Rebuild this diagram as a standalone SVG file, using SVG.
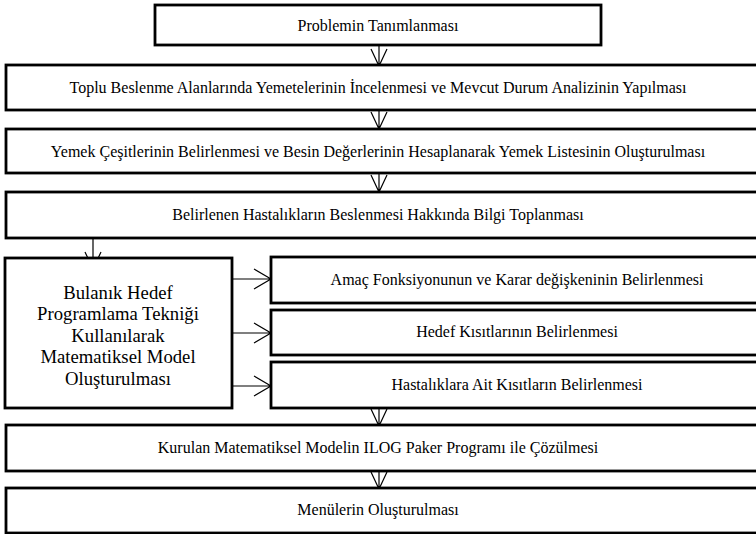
<svg xmlns="http://www.w3.org/2000/svg" width="756" height="534" viewBox="0 0 756 534">
<style>
.box{fill:#fff;stroke:#000;stroke-width:2.8}
.t{font-family:"Liberation Serif","Times New Roman",serif;font-size:16px;fill:#000;text-anchor:middle;dominant-baseline:central}
.big{font-size:18.7px}
.c{fill:none;stroke:#000;stroke-width:1.2}
</style>
<rect width="756" height="534" fill="#fff"/>
<g id="connectors">
<path class="c" d="M379 45V66M371 49L379 66L387 49"/>
<path class="c" d="M379 110V129M371 112L379 129L387 112"/>
<path class="c" d="M379 173V192M371 175L379 192L387 175"/>
<path class="c" d="M93 238V269M85 252L93 269L101 252"/>
<path class="c" d="M232 279H271M254 269L271 279L254 289"/>
<path class="c" d="M232 333H271M254 323L271 333L254 343"/>
<path class="c" d="M232 386H271M254 376L271 386L254 396"/>
<path class="c" d="M379 408V426M371 409L379 426L387 409"/>
<path class="c" d="M379 471V489M371 472L379 489L387 472"/>
</g>
<g id="n1"><rect class="box" x="155" y="5" width="446" height="40"/><text class="t" x="378" y="25">Problemin Tanımlanması</text></g>
<g id="n2"><rect class="box" x="6" y="65" width="756" height="45"/><text class="t" x="378" y="87">Toplu Beslenme Alanlarında Yemetelerinin İncelenmesi ve Mevcut Durum Analizinin Yapılması</text></g>
<g id="n3"><rect class="box" x="6" y="129" width="756" height="44"/><text class="t" x="378" y="151">Yemek Çeşitlerinin Belirlenmesi ve Besin Değerlerinin Hesaplanarak Yemek Listesinin Oluşturulması</text></g>
<g id="n4"><rect class="box" x="6" y="192" width="756" height="46"/><text class="t" x="378" y="214">Belirlenen Hastalıkların Beslenmesi Hakkında Bilgi Toplanması</text></g>
<g id="n5"><rect class="box" x="5" y="258" width="227" height="150"/>
<text class="t big" x="118" y="292">Bulanık Hedef</text>
<text class="t big" x="118" y="313.5">Programlama Tekniği</text>
<text class="t big" x="118" y="335">Kullanılarak</text>
<text class="t big" x="118" y="356.5">Matematiksel Model</text>
<text class="t big" x="118" y="378">Oluşturulması</text></g>
<g id="n6"><rect class="box" x="271" y="257" width="491" height="46"/><text class="t" x="517" y="279">Amaç Fonksiyonunun ve Karar değişkeninin Belirlenmesi</text></g>
<g id="n7"><rect class="box" x="271" y="310" width="491" height="45"/><text class="t" x="517" y="331">Hedef Kısıtlarının Belirlenmesi</text></g>
<g id="n8"><rect class="box" x="271" y="362" width="491" height="46"/><text class="t" x="517" y="384">Hastalıklara Ait Kısıtların Belirlenmesi</text></g>
<g id="n9"><rect class="box" x="6" y="425" width="756" height="46"/><text class="t" x="378" y="447">Kurulan Matematiksel Modelin ILOG Paker Programı ile Çözülmesi</text></g>
<g id="n10"><rect class="box" x="6" y="488" width="756" height="45"/><text class="t" x="378" y="509">Menülerin Oluşturulması</text></g>
</svg>
